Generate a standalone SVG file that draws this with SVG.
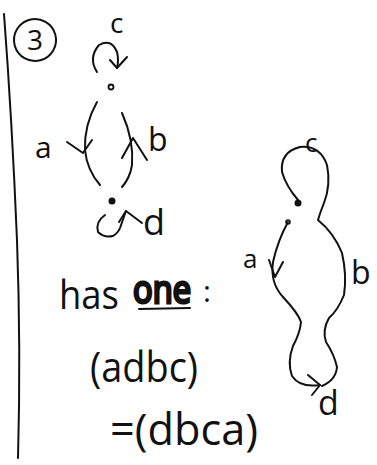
<svg xmlns="http://www.w3.org/2000/svg" width="377" height="465" viewBox="0 0 377 465">
<style>
.ink{fill:none;stroke:#111;stroke-width:2;stroke-linecap:round;stroke-linejoin:round}
.t{font-family:"Open Sans","Liberation Sans",sans-serif;fill:#111;font-weight:400}
</style>
<rect width="377" height="465" fill="#fff"/>
<path class="ink" d="M4 14 Q12 120 17 240 Q21 350 18 458"/>
<g id="label-3">
<ellipse class="ink" cx="35" cy="40" rx="21" ry="21" transform="rotate(-15 35 40)"/>
<text class="t" x="35" y="50" font-size="28" text-anchor="middle">3</text>
</g>
<g id="node-top">
<circle cx="111" cy="87" r="2.5" fill="none" stroke="#111" stroke-width="1.8"/>
</g>
<g id="node-bottom">
<circle cx="112" cy="201" r="3.5" fill="#111"/>
</g>
<g id="node-right">
<circle cx="298" cy="203" r="3.5" fill="#111"/>
<circle cx="288" cy="222" r="2" fill="none" stroke="#111" stroke-width="1.6"/>
</g>
<g id="connectors">
<path class="ink" d="M97 72 Q88 58 99 45 Q111 38 117 52 Q119 60 117 68"/>
<path class="ink" d="M110 60 L117 68 L127 57"/>
<path class="ink" d="M97 102 Q84 125 85 150 Q87 170 100 185"/>
<path class="ink" d="M67 142 L83 153 L92 140"/>
<path class="ink" d="M122 113 Q134 140 132 165 Q130 178 122 187"/>
<path class="ink" d="M122 158 L133 138 L147 160"/>
<path class="ink" d="M105 215 Q95 222 98 232 Q104 238 113 236 Q118 233 120 228 L126 211"/>
<path class="ink" d="M119 222 L126 211 L142 223"/>
<path class="ink" d="M298 200 Q286 186 282 172 Q280 152 300 147 Q320 145 327 165 Q331 185 324 203 Q320 213 318 220 Q334 233 342 253 Q347 275 344 295 Q338 310 329 318 Q322 330 326 342 Q334 354 337 367 Q336 380 322 386"/>
<path class="ink" d="M288 222 Q278 240 273 262 Q270 283 283 297 Q298 313 301 322 Q300 333 293 346 Q287 362 292 376 Q300 388 320 385"/>
<path class="ink" d="M269 260 L275 277 L283 262"/>
<path class="ink" d="M308 375 L320 385 L312 395"/>
</g>
<g id="labels-left">
<text class="t" x="110" y="33" font-size="28">c</text>
<text class="t" x="35" y="158" font-size="30">a</text>
<text class="t" x="148" y="151" font-size="32">b</text>
<text class="t" x="143" y="235" font-size="36">d</text>
</g>
<g id="labels-right">
<text class="t" x="305" y="152" font-size="26">c</text>
<text class="t" x="243" y="268" font-size="26">a</text>
<text class="t" x="351" y="284" font-size="32">b</text>
<text class="t" x="318" y="415" font-size="34">d</text>
</g>
<g id="text-has-one">
<text class="t" x="59" y="309" font-size="40" textLength="60" lengthAdjust="spacingAndGlyphs">has</text>
<text class="t" x="133" y="303" font-size="38" stroke="#111" stroke-width="3" textLength="58" lengthAdjust="spacingAndGlyphs">one</text>
<path class="ink" d="M139 309 L190 308"/>
<text class="t" x="203" y="302" font-size="30">:</text>
</g>
<g id="text-cycle">
<text class="t" x="90" y="382" font-size="42" textLength="108" lengthAdjust="spacingAndGlyphs">(adbc)</text>
<text class="t" x="110" y="445" font-size="44" textLength="148" lengthAdjust="spacingAndGlyphs">=(dbca)</text>
</g>
</svg>
